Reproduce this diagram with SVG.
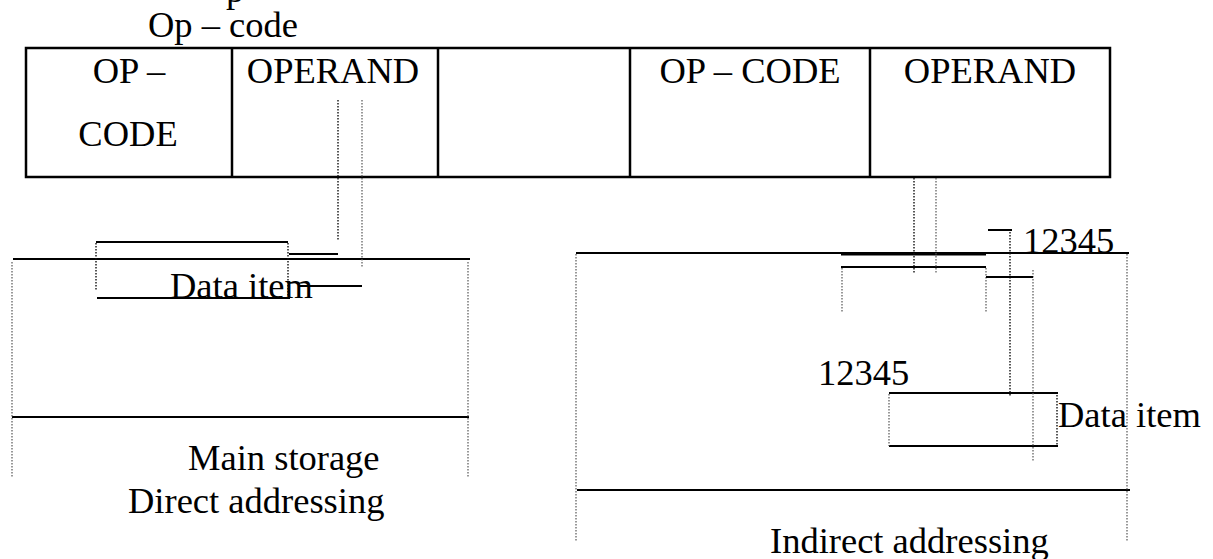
<svg xmlns="http://www.w3.org/2000/svg" width="1213" height="559" viewBox="0 0 1213 559">
  <style>
    text { font-family: "Liberation Serif", "Times New Roman", serif; font-size: 36.5px; fill: #000; }
    .box { fill: none; stroke: #000; stroke-width: 2.5; }
    .rule { stroke: #000; stroke-width: 2; fill: none; }
    .thick { stroke: #000; stroke-width: 3; fill: none; }
    .dot { stroke: #111; stroke-width: 1.4; stroke-dasharray: 1.5 1.5; fill: none; }
    .dotlight { stroke: #555; stroke-width: 1.2; stroke-dasharray: 1.5 1.5; fill: none; }
  </style>
  <rect width="1213" height="559" fill="#fff"/>

  <!-- caption above the instruction word -->
  <g id="caption">
    <text x="226" y="2">p</text>
    <text x="148" y="37">Op – code</text>
  </g>

  <!-- instruction word: five fields -->
  <g id="instruction">
    <rect class="box" x="26" y="48" width="1084" height="129"/>
    <line class="box" x1="232" y1="48" x2="232" y2="177"/>
    <line class="box" x1="438" y1="48" x2="438" y2="177"/>
    <line class="box" x1="630" y1="48" x2="630" y2="177"/>
    <line class="box" x1="870" y1="48" x2="870" y2="177"/>
    <g id="field-opcode-1">
      <text x="129" y="83" text-anchor="middle">OP –</text>
      <text x="128" y="146" text-anchor="middle">CODE</text>
    </g>
    <g id="field-operand-1">
      <text x="333" y="83" text-anchor="middle">OPERAND</text>
    </g>
    <g id="field-empty"></g>
    <g id="field-opcode-2">
      <text x="750" y="83" text-anchor="middle">OP – CODE</text>
    </g>
    <g id="field-operand-2">
      <text x="990" y="83" text-anchor="middle">OPERAND</text>
    </g>
  </g>

  <!-- direct addressing: main storage block -->
  <g id="direct-storage">
    <line class="rule" x1="13" y1="259" x2="470" y2="259"/>
    <line class="rule" x1="12" y1="417" x2="469" y2="417"/>
    <line class="dotlight" x1="12" y1="262" x2="12" y2="477"/>
    <line class="dotlight" x1="468" y1="262" x2="468" y2="477"/>
    <text x="188" y="470">Main storage</text>
    <text x="128" y="513">Direct addressing</text>
  </g>

  <!-- direct addressing: data item location -->
  <g id="direct-data-item">
    <line class="rule" x1="96" y1="242" x2="288" y2="242"/>
    <line class="rule" x1="97" y1="298" x2="290" y2="298"/>
    <line class="dot" x1="96" y1="243" x2="96" y2="291"/>
    <line class="dot" x1="288" y1="243" x2="288" y2="298"/>
    <text x="170" y="298">Data item</text>
  </g>

  <!-- indirect addressing: main storage block -->
  <g id="indirect-storage">
    <line class="rule" x1="576" y1="253" x2="1129" y2="253"/>
    <line class="rule" x1="577" y1="490" x2="1130" y2="490"/>
    <line class="dotlight" x1="576" y1="254" x2="576" y2="541"/>
    <line class="dotlight" x1="1127" y1="254" x2="1127" y2="541"/>
    <text x="770" y="553">Indirect addressing</text>
  </g>

  <!-- indirect addressing: address word holding 12345 -->
  <g id="address-word">
    <line class="thick" x1="841" y1="254" x2="986" y2="254"/>
    <line class="rule" x1="841" y1="267" x2="986" y2="267"/>
    <line class="dotlight" x1="842" y1="268" x2="842" y2="313"/>
    <line class="dotlight" x1="986" y1="268" x2="986" y2="313"/>
    <line class="rule" x1="988" y1="230" x2="1012" y2="230"/>
    <text x="1023" y="253">12345</text>
  </g>

  <!-- indirect addressing: data item at address 12345 -->
  <g id="indirect-data-item">
    <line class="rule" x1="889" y1="393" x2="1058" y2="393"/>
    <line class="rule" x1="889" y1="446" x2="1058" y2="446"/>
    <line class="dotlight" x1="889" y1="394" x2="889" y2="446"/>
    <line class="dot" x1="1057" y1="395" x2="1057" y2="446"/>
    <text x="818" y="385">12345</text>
    <text x="1058" y="427">Data item</text>
  </g>

  <!-- connectors: operand fields to storage -->
  <g id="connectors">
    <line class="dot" x1="338" y1="100" x2="338" y2="240"/>
    <line class="dotlight" x1="362" y1="100" x2="362" y2="267"/>
    <line class="rule" x1="289" y1="254" x2="338" y2="254"/>
    <line class="rule" x1="298" y1="286" x2="362" y2="286"/>
    <line class="dot" x1="914" y1="178" x2="914" y2="273"/>
    <line class="dotlight" x1="936" y1="178" x2="936" y2="273"/>
    <line class="dot" x1="1010" y1="232" x2="1010" y2="397"/>
    <line class="dotlight" x1="1033" y1="270" x2="1033" y2="462"/>
    <line class="rule" x1="986" y1="277" x2="1033" y2="277"/>
  </g>
</svg>
